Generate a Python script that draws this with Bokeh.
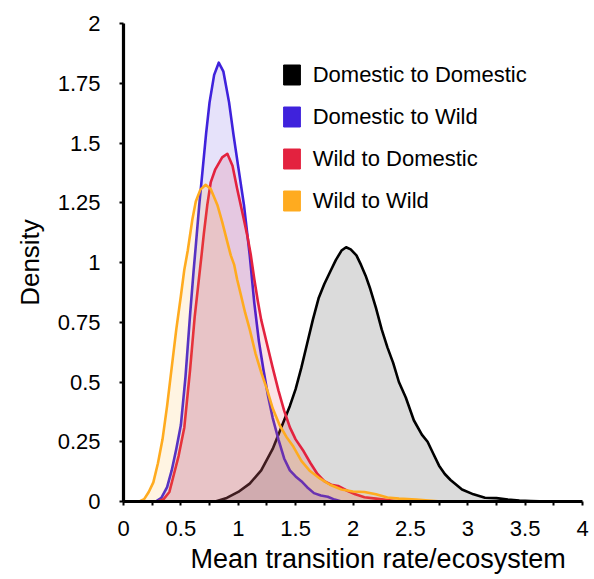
import numpy as np
from bokeh.plotting import figure
from bokeh.models import (Range1d, FixedTicker, Legend, LegendItem, Title,
                          ColumnDataSource)
from bokeh.embed import file_html
from bokeh.resources import INLINE

# ---------------- data ----------------
series_names = ["Domestic to Domestic", "Domestic to Wild",
                "Wild to Domestic", "Wild to Wild"]

dd_x = [0.80, 0.90, 1.00, 1.10, 1.20, 1.30, 1.40, 1.45, 1.50, 1.55, 1.60, 1.65,
        1.70, 1.75, 1.80, 1.85, 1.90, 1.94, 1.98, 2.03, 2.07, 2.11, 2.15, 2.20,
        2.25, 2.30, 2.35, 2.40, 2.46, 2.53, 2.60, 2.65, 2.70, 2.75, 2.80, 2.85,
        2.95, 3.05, 3.15, 3.25, 3.35, 3.45, 3.55, 3.70]
dd_y = [0.0, 0.015, 0.04, 0.075, 0.13, 0.22, 0.34, 0.40, 0.47, 0.56, 0.66, 0.76,
        0.85, 0.91, 0.96, 1.01, 1.05, 1.064, 1.055, 1.03, 0.99, 0.945, 0.89, 0.81,
        0.72, 0.645, 0.58, 0.50, 0.435, 0.34, 0.28, 0.25, 0.20, 0.15, 0.115, 0.09,
        0.05, 0.03, 0.016, 0.014, 0.008, 0.004, 0.002, 0.0]

dw_x = [0.28, 0.33, 0.38, 0.42, 0.46, 0.50, 0.54, 0.58, 0.61, 0.63, 0.66, 0.69,
        0.72, 0.75, 0.79, 0.83, 0.87, 0.92, 0.96, 1.00, 1.05, 1.10, 1.14, 1.18,
        1.22, 1.26, 1.30, 1.35, 1.40, 1.45, 1.50, 1.55, 1.60, 1.66, 1.72, 1.78,
        1.84, 1.90]
dw_y = [0.0, 0.015, 0.06, 0.13, 0.22, 0.32, 0.52, 0.78, 0.96, 1.07, 1.24, 1.39,
        1.54, 1.67, 1.785, 1.836, 1.80, 1.67, 1.53, 1.40, 1.24, 1.03, 0.83, 0.67,
        0.55, 0.44, 0.35, 0.26, 0.18, 0.13, 0.105, 0.085, 0.06, 0.035, 0.025,
        0.02, 0.008, 0.0]

wd_x = [0.30, 0.35, 0.40, 0.44, 0.48, 0.53, 0.58, 0.62, 0.65, 0.68, 0.70, 0.73,
        0.76, 0.80, 0.86, 0.905, 0.95, 0.99, 1.04, 1.08, 1.11, 1.14, 1.17, 1.20,
        1.25, 1.30, 1.35, 1.40, 1.45, 1.50, 1.57, 1.63, 1.69, 1.75, 1.81, 1.87,
        1.95, 2.02, 2.10, 2.20, 2.30, 2.40]
wd_y = [0.0, 0.01, 0.04, 0.115, 0.19, 0.31, 0.55, 0.77, 0.90, 1.03, 1.12, 1.24,
        1.335, 1.39, 1.44, 1.455, 1.405, 1.31, 1.20, 1.11, 1.03, 0.93, 0.84, 0.76,
        0.66, 0.56, 0.465, 0.38, 0.31, 0.26, 0.21, 0.16, 0.115, 0.085, 0.07,
        0.065, 0.045, 0.03, 0.018, 0.012, 0.006, 0.0]

ww_x = [0.14, 0.18, 0.22, 0.26, 0.30, 0.34, 0.38, 0.42, 0.46, 0.50, 0.53, 0.56,
        0.60, 0.63, 0.67, 0.716, 0.76, 0.82, 0.86, 0.905, 0.935, 0.965, 0.99,
        1.02, 1.06, 1.10, 1.15, 1.20, 1.25, 1.30, 1.36, 1.42, 1.48, 1.55, 1.62,
        1.70, 1.80, 1.90, 2.00, 2.10, 2.20, 2.30, 2.40, 2.55, 2.77]
ww_y = [0.0, 0.01, 0.04, 0.08, 0.16, 0.26, 0.40, 0.56, 0.72, 0.86, 0.97, 1.05,
        1.18, 1.255, 1.305, 1.325, 1.308, 1.238, 1.17, 1.085, 1.03, 0.99, 0.93,
        0.87, 0.79, 0.72, 0.62, 0.54, 0.47, 0.39, 0.32, 0.27, 0.23, 0.17, 0.13,
        0.10, 0.07, 0.05, 0.042, 0.04, 0.03, 0.017, 0.012, 0.008, 0.0]

x_ticks = [0, 0.5, 1, 1.5, 2, 2.5, 3, 3.5, 4]
x_tick_labels = ["0", "0.5", "1", "1.5", "2", "2.5", "3", "3.5", "4"]
y_ticks = [0, 0.25, 0.5, 0.75, 1, 1.25, 1.5, 1.75, 2]
y_tick_labels = ["0", "0.25", "0.5", "0.75", "1", "1.25", "1.5", "1.75", "2"]

x_title = "Mean transition rate/ecosystem"
y_title = "Density"

# ---------------- styling ----------------
colors = ["#000000", "#3f22dc", "#e3223f", "#ffab1f"]
fill_alphas = [0.14, 0.13, 0.13, 0.13]
SANS = "Liberation Sans"

p = figure(width=594, height=579, output_backend="svg", toolbar_location=None,
           x_range=Range1d(0, 4), y_range=Range1d(0, 2),
           min_border_left=123, min_border_right=12, min_border_top=23,
           min_border_bottom=78)
p.outline_line_color = None
p.grid.visible = False
p.background_fill_color = "white"
p.border_fill_color = "white"

xs = [dd_x, dw_x, wd_x, ww_x]
ys = [dd_y, dw_y, wd_y, ww_y]
for x, y, c, a in zip(xs, ys, colors, fill_alphas):
    src = ColumnDataSource(dict(x=x, y=y, z=[0.0] * len(x)))
    p.varea(x="x", y1="z", y2="y", source=src, fill_color=c, fill_alpha=a)
    p.line(x="x", y="y", source=src, line_color=c, line_width=2.6,
           line_join="round")

# axes
xa = p.xaxis[0]
xa.ticker = FixedTicker(ticks=x_ticks,
                        minor_ticks=[t + 0.25 for t in x_ticks[:-1]])
xa.major_label_overrides = {t: l for t, l in zip(x_ticks, x_tick_labels)}
ya = p.yaxis[0]
ya.ticker = FixedTicker(ticks=y_ticks)
ya.major_label_overrides = {t: l for t, l in zip(y_ticks, y_tick_labels)}

for ax in (xa, ya):
    ax.axis_line_width = 3.2
    ax.axis_line_color = "black"
    ax.major_tick_in = 0
    ax.major_tick_out = 4
    ax.major_tick_line_width = 2
    ax.minor_tick_in = 0
    ax.minor_tick_out = 4
    ax.minor_tick_line_width = 2
    ax.major_label_text_font = SANS
    ax.major_label_text_font_size = "22px"
    ax.major_label_text_color = "black"
ya.major_label_standoff = 19
xa.major_label_standoff = 15

ya.axis_label = y_title
ya.axis_label_text_font = SANS
ya.axis_label_text_font_size = "26px"
ya.axis_label_text_font_style = "normal"
ya.axis_label_text_color = "black"
ya.axis_label_standoff = 10

xt = Title(text=x_title, align="left", offset=67, text_font=SANS,
           text_font_size="27px", text_font_style="normal",
           text_color="black", standoff=6)
p.add_layout(xt, "below")

# legend with solid swatches
items = []
for name, c in zip(series_names, colors):
    r = p.quad(left=[np.nan], right=[np.nan], top=[np.nan], bottom=[np.nan],
               fill_color=c, line_color=c, fill_alpha=1.0)
    items.append(LegendItem(label=name, renderers=[r]))
legend = Legend(items=items, location=(157.7, 287.5), padding=0, margin=0,
                spacing=16, glyph_width=21, glyph_height=25,
                label_standoff=11, label_text_font=SANS,
                label_text_font_size="22px", label_text_color="black",
                border_line_color=None, background_fill_alpha=0)
p.add_layout(legend)

open("out.html", "w").write(file_html(p, INLINE))
